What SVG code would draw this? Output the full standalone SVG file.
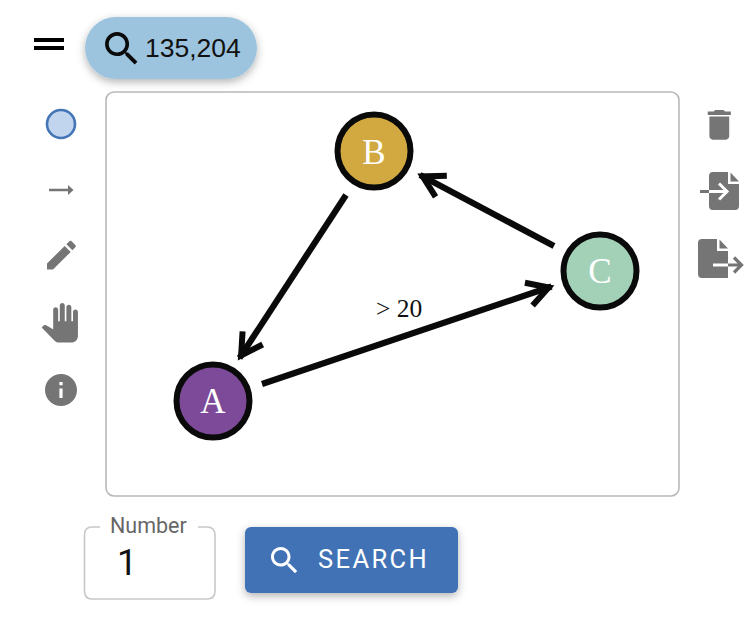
<svg xmlns="http://www.w3.org/2000/svg" width="754" height="632" viewBox="0 0 754 632">
<style>
.ic{fill:#757575}
.nd{stroke:#0a0a0a;stroke-width:6}
.nt{font-family:"Liberation Serif",serif;font-size:35px;fill:#fff;text-anchor:middle}
.ed{fill:none;stroke:#0a0a0a;stroke-width:6.2}
</style>
<defs>
<filter id="sh" x="-20%" y="-30%" width="140%" height="170%"><feDropShadow dx="0" dy="3" stdDeviation="4" flood-color="#000" flood-opacity="0.3"/></filter>
<marker id="arr" markerUnits="userSpaceOnUse" markerWidth="40" markerHeight="40" refX="3" refY="0" viewBox="-25 -20 40 40" orient="auto"><path d="M-21 -12L0 0L-21 12" fill="none" stroke="#0a0a0a" stroke-width="6"/></marker>
<path id="search" d="M15.500 14h-.79l-.28-.27C15.410 12.590 16 11.110 16 9.500 16 5.910 13.090 3 9.500 3S3 5.910 3 9.500 5.910 16 9.500 16c1.610 0 3.090-.59 4.230-1.570l.27.28v.79l5 4.990L20.490 19l-4.990-5zm-6 0C7.010 14 5 11.990 5 9.500S7.010 5 9.500 5 14 7.010 14 9.500 11.990 14 9.500 14z"/>
</defs>
<rect width="754" height="632" fill="#fff"/>
<g id="menu" fill="#000"><rect x="34" y="38" width="30" height="4"/><rect x="34" y="46" width="30" height="4"/></g>
<g id="counter">
<rect x="85" y="17" width="172" height="62" rx="31" fill="#9dc4de" filter="url(#sh)"/>
<use href="#search" transform="translate(99.500 26.500) scale(1.850)" fill="#0a0a0a"/>
<text x="145" y="57" font-family="'Liberation Sans',sans-serif" font-size="26.500" fill="#111">135,204</text>
</g>
<rect id="canvas" x="106" y="92" width="573" height="404" rx="8" fill="#fff" stroke="#b8b8b8" stroke-width="1.600"/>
<g id="tools-left">
<circle cx="61" cy="124" r="14" fill="#c1d5ee" stroke="#4375b7" stroke-width="2.600"/>
<path class="ic" d="M49 188.800H68V185L73.500 190L68 195V191.200H49Z"/>
<path class="ic" transform="translate(42.200 236) scale(1.600)" d="M3 17.250V21h3.750L17.810 9.940l-3.750-3.750L3 17.250zM20.710 7.040c.39-.39.39-1.020 0-1.410l-2.340-2.340c-.39-.39-1.020-.39-1.410 0l-1.830 1.830 3.750 3.750 1.830-1.830z"/>
<path class="ic" transform="translate(40 303) scale(1.650)" d="M23 5.500V20c0 2.200-1.800 4-4 4h-7.300c-1.080 0-2.100-.43-2.850-1.190L1 14.830s1.260-1.230 1.300-1.250c.22-.19.490-.29.790-.29.220 0 .420.060.600.160.040.010 4.310 2.460 4.310 2.460V4c0-.83.670-1.500 1.500-1.500S11 3.170 11 4v7h1V1.500c0-.83.670-1.500 1.500-1.500S15 .670 15 1.500V11h1V2.500c0-.83.670-1.500 1.500-1.500s1.500.670 1.500 1.500V11h1V5.500c0-.83.670-1.500 1.500-1.500s1.500.670 1.500 1.500z"/>
<path class="ic" transform="translate(41.800 370.800) scale(1.600)" d="M12 2C6.480 2 2 6.480 2 12s4.480 10 10 10 10-4.480 10-10S17.520 2 12 2zm1 15h-2v-6h2v6zm0-8h-2V7h2v2z"/>
</g>
<g id="tools-right">
<path class="ic" transform="translate(699.500 105) scale(1.650)" d="M6 19c0 1.100.9 2 2 2h8c1.100 0 2-.9 2-2V7H6v12zM19 4h-3.500l-1-1h-5l-1 1H5v2h14V4z"/>
<path class="ic" d="M713 172H728V184H739V206Q739 210 735 210H713Q709 210 709 206V176Q709 172 713 172ZM730.500 172.500L739 181.500H730.500Z"/>
<path class="ic" d="M700 190H709V193H700Z"/>
<path d="M709 191.500H726M719 183.500L727 191.500L719 199.500" fill="none" stroke="#fff" stroke-width="3"/>
<path class="ic" d="M702 239H717V251H728V278H702Q698 278 698 274V243Q698 239 702 239ZM719.500 239.500L728 248.500H719.500Z"/>
<path d="M713 265H728" fill="none" stroke="#fff" stroke-width="3"/>
<path d="M728 265H741M734 257.500L741.500 265L734 272.500" fill="none" stroke="#757575" stroke-width="3.200"/>
</g>
<g id="connectors">
<path class="ed" d="M346 195L239.500 358" marker-end="url(#arr)"/>
<path class="ed" d="M554 246L420 175" marker-end="url(#arr)"/>
<path class="ed" d="M262 384L551.500 286.500" marker-end="url(#arr)"/>
<text x="376" y="317" font-family="'Liberation Serif',serif" font-size="25.500" fill="#111">&gt; 20</text>
</g>
<g id="node-b"><circle class="nd" cx="374" cy="151" r="36.500" fill="#d1a940"/><text class="nt" x="374" y="163.500">B</text></g>
<g id="node-c"><circle class="nd" cx="600" cy="271" r="36.500" fill="#a3d1b8"/><text class="nt" x="600" y="283">C</text></g>
<g id="node-a"><circle class="nd" cx="213" cy="401" r="36.500" fill="#7c4a98"/><text class="nt" x="213" y="413">A</text></g>
<g id="number-field">
<path d="M100 527H92Q84.500 527 84.500 535V591Q84.500 599 92 599H207Q215 599 215 591V535Q215 527 207 527H198" fill="#fff" stroke="#c8c8c8" stroke-width="1.600"/>
<text x="110" y="533" font-family="Roboto,sans-serif" font-size="21.500px" fill="#666">Number</text>
<text x="117" y="575" font-family="Roboto,sans-serif" font-size="36px" fill="#111">1</text>
</g>
<g id="search-button">
<rect x="245" y="527" width="213" height="66" rx="6" fill="#4172b5" filter="url(#sh)"/>
<use href="#search" transform="translate(266.500 542.500) scale(1.500)" fill="#fff"/>
<text x="318" y="568" font-family="Roboto,sans-serif" font-size="25.500px" letter-spacing="2.400" fill="#fff">SEARCH</text>
</g>
</svg>
